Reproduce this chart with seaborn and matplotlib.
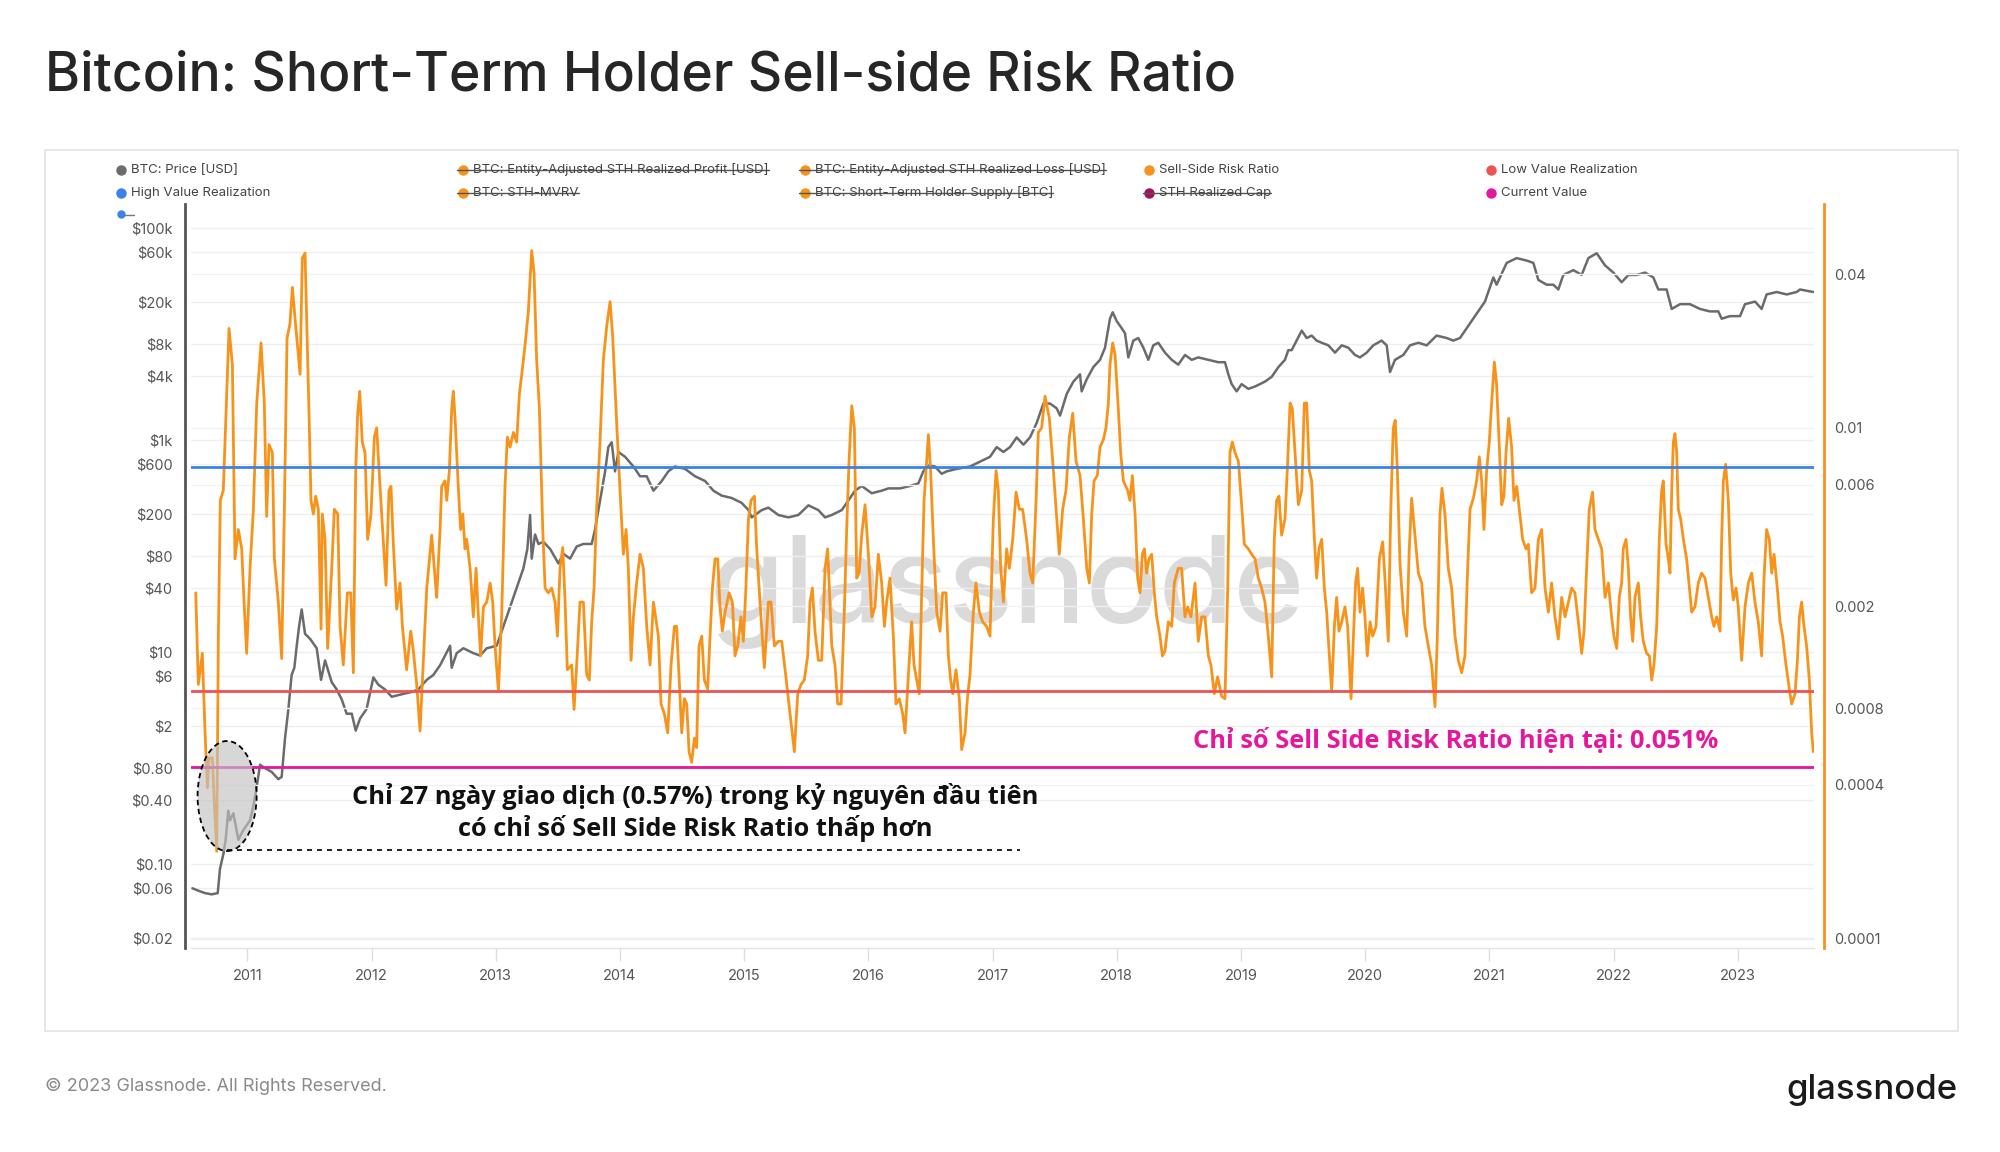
import numpy as np
import seaborn as sns
import matplotlib.pyplot as plt
from matplotlib.patches import Ellipse, Rectangle
from matplotlib.lines import Line2D
from matplotlib.ticker import NullLocator

# BTC price (USD), decimal year
price_year = [
    2010.557, 2010.605, 2010.659, 2010.712, 2010.761, 2010.779, 2010.806, 2010.825, 2010.846, 2010.860,
    2010.887, 2010.927, 2010.967, 2011.021, 2011.048, 2011.075, 2011.102, 2011.128, 2011.195, 2011.249,
    2011.276, 2011.303, 2011.330, 2011.356, 2011.378, 2011.397, 2011.416, 2011.437, 2011.464, 2011.504,
    2011.558, 2011.593, 2011.625, 2011.679, 2011.719, 2011.759, 2011.799, 2011.840, 2011.872, 2011.907,
    2011.960, 2012.014, 2012.054, 2012.108, 2012.162, 2012.242, 2012.323, 2012.376,
    2012.444, 2012.497, 2012.551, 2012.591, 2012.632, 2012.645, 2012.685, 2012.739, 2012.819, 2012.873,
    2012.927, 2013.007, 2013.061, 2013.115, 2013.168, 2013.222, 2013.254, 2013.276, 2013.289, 2013.316,
    2013.343, 2013.383, 2013.437, 2013.504, 2013.544, 2013.598, 2013.651, 2013.705, 2013.772, 2013.799,
    2013.839, 2013.880, 2013.906, 2013.933, 2013.960, 2013.987, 2014.041, 2014.108, 2014.161, 2014.215,
    2014.269, 2014.336, 2014.389, 2014.443, 2014.524, 2014.604, 2014.685, 2014.752, 2014.819, 2014.899,
    2014.980, 2015.034, 2015.060, 2015.087, 2015.141, 2015.195, 2015.275, 2015.356, 2015.436, 2015.517,
    2015.597, 2015.651, 2015.705, 2015.785, 2015.839, 2015.892, 2015.946, 2016.027, 2016.107, 2016.161,
    2016.255, 2016.335, 2016.402, 2016.442, 2016.483, 2016.536, 2016.590, 2016.630, 2016.711, 2016.818,
    2016.899, 2016.979, 2017.033, 2017.087, 2017.140, 2017.194, 2017.248, 2017.301, 2017.355, 2017.409,
    2017.462, 2017.516, 2017.543, 2017.597, 2017.650, 2017.704, 2017.717, 2017.758, 2017.811, 2017.865,
    2017.905, 2017.945, 2017.967, 2017.999, 2018.039, 2018.066, 2018.093, 2018.133, 2018.173, 2018.214,
    2018.254, 2018.294, 2018.334, 2018.388, 2018.442, 2018.495, 2018.549, 2018.603, 2018.656, 2018.737,
    2018.817, 2018.871, 2018.898, 2018.925, 2018.965, 2019.005, 2019.059, 2019.113, 2019.193, 2019.247,
    2019.301, 2019.354, 2019.381, 2019.408, 2019.448, 2019.489, 2019.529, 2019.569, 2019.609, 2019.650,
    2019.703, 2019.757, 2019.811, 2019.864, 2019.918, 2019.958, 2020.012, 2020.065, 2020.132, 2020.173,
    2020.200, 2020.240, 2020.307, 2020.361, 2020.428, 2020.495, 2020.575, 2020.656, 2020.709, 2020.763,
    2020.817, 2020.897, 2020.964, 2021.032, 2021.058, 2021.139, 2021.219, 2021.300, 2021.354, 2021.394,
    2021.461, 2021.515, 2021.555, 2021.595, 2021.676, 2021.743, 2021.797, 2021.864, 2021.931, 2021.998,
    2022.065, 2022.119, 2022.186, 2022.253, 2022.320, 2022.360, 2022.427, 2022.468, 2022.535, 2022.615,
    2022.696, 2022.776, 2022.843, 2022.870, 2022.937, 2023.018, 2023.058, 2023.139, 2023.192, 2023.232,
    2023.313, 2023.394, 2023.474, 2023.501, 2023.608,
]
price_usd = [
    0.0593, 0.0563, 0.0534, 0.052, 0.0534, 0.0903, 0.124, 0.170, 0.320, 0.259,
    0.303, 0.170, 0.210, 0.259, 0.355, 0.542, 0.869, 0.824, 0.743, 0.634,
    0.668, 1.55, 2.92, 6.10, 7.14, 11.5, 17.5, 25.3, 14.9, 13.4,
    10.9, 5.49, 8.37, 5.21, 4.45, 3.60, 2.63, 2.63, 1.82, 2.37,
    2.92, 5.79, 4.94, 4.45, 3.80, 4.01, 4.22, 4.45,
    5.49, 6.10, 7.53, 9.30, 11.5, 7.14, 9.8, 10.9, 9.8, 9.3,
    10.9, 11.5, 17.5, 26.7, 40.6, 61.8, 94.3, 197, 76.3, 129,
    105, 110, 94.3, 68.8, 84.9, 76.3, 99.3, 105, 105, 144,
    270, 508, 861, 955, 508, 774, 697, 565, 457, 457,
    334, 412, 508, 565, 536, 457, 412, 334, 300, 285,
    256, 219, 187, 197, 219, 231, 197, 187, 197, 243,
    219, 187, 197, 219, 270, 334, 370, 316, 334, 351,
    351, 370, 391, 508, 577, 565, 482, 508, 536, 565,
    628, 697, 861, 774, 861, 1062, 907, 1062, 1456, 2218,
    2218, 1998, 1706, 2739, 3565, 4180, 2890, 3760, 4890, 5730,
    7450, 14000, 16100, 13300, 11400, 10200, 6040, 8700, 9200, 7450,
    5730, 7850, 8300, 6700, 5730, 5160, 6370, 5730, 6040, 5730,
    5440, 5440, 4180, 3380, 2890, 3380, 3050, 3210, 3570, 3960,
    4890, 5730, 7070, 7070, 8700, 10800, 9200, 9700, 8700, 8300,
    7850, 6700, 7850, 7450, 6370, 6040, 6700, 7850, 8700, 7850,
    4400, 5730, 6370, 7850, 8300, 7850, 9700, 9200, 8700, 9200,
    11400, 15600, 20300, 34300, 29300, 47000, 52200, 49500, 47000, 32500,
    29300, 29300, 26400, 36200, 40200, 36200, 52200, 58000, 44600, 38100,
    30900, 36200, 36200, 38100, 34300, 26400, 26400, 17300, 19200, 19200,
    17300, 16400, 16400, 14000, 14800, 14800, 19200, 20300, 17300, 23700,
    25000, 23700, 25000, 26400, 25000,
]

# Sell-Side Risk Ratio, in basis points (1 bp = 0.0001)
ssr_year = [
    2010.584, 2010.605, 2010.637, 2010.659, 2010.678, 2010.691, 2010.718, 2010.731, 2010.753, 2010.766,
    2010.782, 2010.806, 2010.825, 2010.852, 2010.879, 2010.900, 2010.927, 2010.954, 2010.975, 2010.994,
    2011.021, 2011.048, 2011.075, 2011.110, 2011.136, 2011.155, 2011.174, 2011.201, 2011.217, 2011.249,
    2011.276, 2011.297, 2011.319, 2011.343, 2011.362, 2011.389, 2011.424, 2011.442, 2011.464, 2011.496,
    2011.512, 2011.531, 2011.550, 2011.571, 2011.593, 2011.603, 2011.625, 2011.646, 2011.679, 2011.700,
    2011.727, 2011.746, 2011.772, 2011.805, 2011.832, 2011.853, 2011.872, 2011.888, 2011.904, 2011.925,
    2011.947, 2011.968, 2011.995, 2012.022, 2012.041, 2012.054, 2012.081, 2012.116, 2012.140, 2012.156,
    2012.175, 2012.202, 2012.229, 2012.248, 2012.282, 2012.315, 2012.336, 2012.363, 2012.390,
    2012.417, 2012.444, 2012.484, 2012.511, 2012.524, 2012.551, 2012.564, 2012.591, 2012.605, 2012.626,
    2012.645, 2012.658, 2012.672, 2012.699, 2012.717, 2012.734, 2012.752, 2012.766, 2012.793, 2012.819,
    2012.841, 2012.860, 2012.878, 2012.900, 2012.927, 2012.954, 2012.975, 2012.994, 2013.021, 2013.048,
    2013.074, 2013.093, 2013.115, 2013.142, 2013.168, 2013.190, 2013.209, 2013.235, 2013.262, 2013.289,
    2013.308, 2013.329, 2013.351, 2013.378, 2013.397, 2013.423, 2013.450, 2013.477, 2013.496, 2013.517,
    2013.539, 2013.558, 2013.576, 2013.611, 2013.630, 2013.651, 2013.678, 2013.705, 2013.732, 2013.753,
    2013.772, 2013.791, 2013.812, 2013.839, 2013.866, 2013.893, 2013.920, 2013.941, 2013.973, 2014.000,
    2014.027, 2014.049, 2014.067, 2014.089, 2014.108, 2014.134, 2014.161, 2014.188, 2014.215, 2014.242,
    2014.269, 2014.309, 2014.330, 2014.357, 2014.384, 2014.411, 2014.438, 2014.456, 2014.475, 2014.497,
    2014.518, 2014.537, 2014.556, 2014.577, 2014.599, 2014.617, 2014.636, 2014.658, 2014.679, 2014.706,
    2014.725, 2014.744, 2014.765, 2014.787, 2014.805, 2014.824, 2014.846, 2014.878, 2014.905, 2014.926,
    2014.948, 2014.974, 2014.993, 2015.012, 2015.034, 2015.055, 2015.082, 2015.101, 2015.127, 2015.162,
    2015.195, 2015.216, 2015.243, 2015.275, 2015.302, 2015.334, 2015.369, 2015.404, 2015.431, 2015.458,
    2015.484, 2015.511, 2015.530, 2015.549, 2015.570, 2015.597, 2015.624, 2015.651, 2015.672, 2015.705,
    2015.731, 2015.753, 2015.780, 2015.806, 2015.825, 2015.844, 2015.866, 2015.887, 2015.906, 2015.925,
    2015.946, 2015.973, 2016.000, 2016.027, 2016.053, 2016.080, 2016.107, 2016.129, 2016.147, 2016.174,
    2016.201, 2016.222, 2016.249, 2016.276, 2016.295, 2016.322, 2016.348, 2016.367, 2016.389, 2016.410,
    2016.429, 2016.448, 2016.464, 2016.483, 2016.501, 2016.523, 2016.550, 2016.577, 2016.598, 2016.625,
    2016.644, 2016.662, 2016.679, 2016.705, 2016.732, 2016.751, 2016.778, 2016.797, 2016.818, 2016.845,
    2016.866, 2016.893, 2016.920, 2016.952, 2016.979, 2017.006, 2017.028, 2017.046, 2017.065, 2017.087,
    2017.113, 2017.135, 2017.162, 2017.189, 2017.215, 2017.242, 2017.274, 2017.301, 2017.323, 2017.350,
    2017.368, 2017.395, 2017.422, 2017.457, 2017.484, 2017.511, 2017.537, 2017.564, 2017.591, 2017.618,
    2017.645, 2017.672, 2017.704, 2017.731, 2017.758, 2017.779, 2017.798, 2017.817, 2017.843, 2017.865,
    2017.892, 2017.913, 2017.932, 2017.945, 2017.967, 2017.986, 2018.012, 2018.031, 2018.053,
    2018.087, 2018.106, 2018.125, 2018.147, 2018.168, 2018.187, 2018.206, 2018.222, 2018.240, 2018.259,
    2018.281, 2018.302, 2018.321, 2018.348, 2018.367, 2018.388, 2018.415, 2018.442, 2018.463, 2018.495,
    2018.522, 2018.549, 2018.571, 2018.597, 2018.630, 2018.656, 2018.683, 2018.710, 2018.737, 2018.758,
    2018.785, 2018.812, 2018.844, 2018.871, 2018.893, 2018.911, 2018.930, 2018.952, 2018.979, 2019.005,
    2019.027, 2019.059, 2019.086, 2019.113, 2019.140, 2019.166, 2019.193, 2019.220, 2019.247, 2019.268,
    2019.287, 2019.306, 2019.327, 2019.354, 2019.376, 2019.395, 2019.413, 2019.435, 2019.462, 2019.489,
    2019.510, 2019.529, 2019.550, 2019.569, 2019.591, 2019.609, 2019.628, 2019.650, 2019.671, 2019.690,
    2019.709, 2019.730, 2019.752, 2019.770, 2019.789, 2019.811, 2019.837, 2019.859, 2019.886, 2019.907,
    2019.923, 2019.939, 2019.958, 2019.979, 2019.998, 2020.017, 2020.039, 2020.060, 2020.087, 2020.114,
    2020.141, 2020.159, 2020.186, 2020.205, 2020.226, 2020.242, 2020.259, 2020.280, 2020.307, 2020.334,
    2020.355, 2020.374, 2020.401, 2020.428, 2020.455, 2020.481, 2020.508, 2020.535, 2020.562, 2020.581,
    2020.602, 2020.618, 2020.642, 2020.669, 2020.696, 2020.723, 2020.750, 2020.777, 2020.803, 2020.822,
    2020.844, 2020.871, 2020.897, 2020.919, 2020.938, 2020.956, 2020.978, 2020.999, 2021.018, 2021.040,
    2021.058, 2021.080, 2021.099, 2021.117, 2021.134, 2021.155, 2021.179, 2021.198, 2021.220, 2021.241,
    2021.268, 2021.295, 2021.313, 2021.340, 2021.367, 2021.394, 2021.421, 2021.448, 2021.475, 2021.501,
    2021.528, 2021.555, 2021.582, 2021.609, 2021.636, 2021.662, 2021.689, 2021.716, 2021.743, 2021.762,
    2021.783, 2021.804, 2021.831, 2021.850, 2021.877, 2021.904, 2021.931, 2021.958, 2021.984, 2022.003,
    2022.025, 2022.046, 2022.065, 2022.078, 2022.100, 2022.119, 2022.137, 2022.154, 2022.172, 2022.199,
    2022.218, 2022.239, 2022.266, 2022.288, 2022.307, 2022.325, 2022.347, 2022.368, 2022.387, 2022.400,
    2022.422, 2022.441, 2022.454, 2022.468, 2022.481, 2022.494, 2022.508, 2022.521, 2022.540, 2022.562,
    2022.588, 2022.610, 2022.629, 2022.655, 2022.682, 2022.709, 2022.736, 2022.763, 2022.790, 2022.808,
    2022.830, 2022.857, 2022.870, 2022.884, 2022.902, 2022.924, 2022.943, 2022.964, 2022.986, 2023.004,
    2023.031, 2023.058, 2023.085, 2023.112, 2023.138, 2023.165, 2023.192, 2023.211, 2023.232, 2023.254,
    2023.273, 2023.292, 2023.318, 2023.340, 2023.361, 2023.388, 2023.415, 2023.434, 2023.461, 2023.480,
    2023.496, 2023.514, 2023.533, 2023.554, 2023.576, 2023.595, 2023.608,
]
ssr_bp = [
    22.6, 9.9, 13.1, 6.4, 3.9, 5.1, 5.1, 3.6, 2.2, 15.3,
    52, 57, 105, 245, 177, 30.7, 40, 33.6, 19.9, 13.1,
    28.2, 48, 125, 215, 125, 45, 86, 80, 30.7, 20.8,
    12.5, 46, 224, 256, 355, 250, 162, 462, 483, 114,
    52, 46, 54, 48, 16.3, 46, 36.6, 13.7, 28.2, 48,
    46, 16.7, 11.8, 22.6, 22.6, 11.0, 68, 114, 139, 88,
    80, 36.6, 46, 92, 100, 77, 46, 24.2, 57, 59,
    35, 19.5, 24.7, 16.7, 11.3, 16.0, 13.4, 9.9, 6.5,
    12.3, 23.6, 38, 25.8, 21.7, 40, 59, 62, 52, 68,
    119, 139, 109, 57, 40, 46, 33.6, 36.6, 28.2, 18.2,
    28.2, 18.2, 12.8, 19.9, 20.8, 24.7, 20.8, 14.0, 9.3, 19.0,
    59, 92, 84, 96, 88, 136, 162, 210, 286, 494,
    405, 184, 119, 40, 23.6, 22.6, 23.6, 20.8, 15.3, 28.2,
    34, 20.8, 11.3, 11.8, 7.9, 11.8, 20.8, 20.8, 10.8, 10.3,
    17.4, 23.6, 48, 88, 184, 250, 312, 229, 105, 57,
    32, 40, 28.2, 12.3, 18.2, 24.7, 32, 28.2, 16.7, 11.8,
    20.8, 15.3, 8.3, 7.6, 6.4, 11.8, 16.7, 16.7, 10.8, 6.4,
    8.7, 8.3, 5.4, 4.9, 6.1, 5.6, 14.0, 15.3, 10.3, 9.5,
    15.3, 23.6, 30.7, 30.7, 19.9, 16.0, 19.0, 22.6, 20.8, 12.8,
    14.0, 18.2, 14.6, 22.6, 44, 52, 54, 33.6, 20.8, 11.5,
    20.8, 20.8, 14.0, 14.6, 14.6, 10.8, 7.6, 5.4, 9.1, 9.9,
    10.3, 12.8, 20.8, 23.6, 16.0, 12.3, 12.3, 28.2, 33.6, 14.0,
    11.8, 8.3, 8.3, 19.0, 40, 74, 122, 100, 25.8, 27,
    38, 50, 32, 18.2, 19.9, 32, 24.7, 16.7, 20.8, 25.8,
    15.3, 8.3, 8.7, 7.6, 6.4, 10.8, 17.4, 11.8, 10.3, 9.1,
    22.6, 52, 68, 94, 68, 36.6, 19.0, 16.0, 22.6, 22.6,
    12.8, 10.3, 9.1, 11.3, 8.7, 5.5, 6.4, 8.7, 10.8, 19.0,
    24.7, 19.0, 17.4, 16.7, 15.3, 44, 68, 57, 28.2, 20.8,
    33.6, 28.2, 36.6, 56, 48, 48, 36.6, 27, 24.7, 52,
    96, 100, 133, 109, 74, 48, 32, 48, 57, 92,
    114, 74, 65, 44, 28.2, 24.7, 46, 62, 65, 84,
    90, 100, 125, 177, 215, 193, 119, 80, 62,
    57, 52, 65, 46, 25.8, 22.6, 32, 33.6, 27, 30.7,
    32, 22.6, 18.2, 15.3, 12.8, 13.4, 17.4, 16.7, 24.7, 28.2,
    28.2, 18.2, 19.9, 18.2, 24.7, 14.6, 18.2, 18.2, 12.8, 11.8,
    9.1, 10.6, 8.9, 8.7, 23.6, 80, 88, 80, 74, 50,
    35, 33.6, 32, 30.7, 25.8, 23.6, 20.8, 15.3, 10.6, 36.6,
    52, 54, 38, 44, 74, 125, 119, 80, 50, 57,
    125, 125, 68, 62, 36.6, 25.8, 33.6, 36.6, 23.6, 19.0,
    13.4, 9.3, 16.7, 21.7, 16.0, 17.4, 19.9, 16.7, 8.7, 16.0,
    24.7, 28.2, 19.0, 23.6, 18.2, 12.8, 17.4, 15.3, 16.7, 30.7,
    35.8, 25.8, 14.6, 46, 100, 107, 68, 29.4, 19.0, 15.3,
    33.6, 53, 38, 27, 24.7, 16.7, 14.0, 11.8, 8.1, 15.3,
    46, 58, 46, 28.2, 23.6, 15.3, 12.3, 11.0, 12.8, 25.8,
    48, 53, 62, 77, 62, 40, 68, 88, 125, 181,
    148, 84, 50, 54, 80, 109, 84, 52, 59, 48,
    36.6, 33.6, 35, 22.6, 23.6, 36.6, 40, 23.6, 19.0, 24.7,
    18.2, 14.9, 21.7, 18.2, 20.8, 23.6, 22.6, 17.4, 13.1, 16.0,
    28.2, 48, 56, 40, 36.6, 33.6, 21.7, 24.7, 18.2, 15.3,
    13.7, 21.7, 24.7, 33.6, 36.6, 28.2, 18.2, 14.6, 21.7, 24.7,
    18.2, 14.6, 13.1, 12.8, 10.3, 11.8, 16.7, 36.6, 57, 62,
    35, 30.7, 27, 57, 88, 95, 80, 48, 44, 36.6,
    30.7, 23.6, 19.0, 19.9, 24.7, 27, 25.8, 21.7, 18.2, 16.7,
    18.2, 16.0, 36.6, 62, 72, 52, 27, 21.2, 23.6, 19.9,
    12.3, 19.9, 24.7, 27, 20.8, 17.4, 12.8, 25.8, 40, 36.6,
    27, 32, 23.6, 17.4, 15.3, 11.8, 9.5, 8.3, 9.1, 12.3,
    18.2, 20.8, 16.7, 14.0, 10.3, 6.4, 5.4,
]

high_value = 0.0070
low_value = 0.00093
current_value = 0.00047

left_ticks = [1e5, 6e4, 2e4, 8e3, 4e3, 1e3, 600, 200, 80, 40, 10, 6, 2, 0.8, 0.4, 0.1, 0.06, 0.02]
left_labels = ["$100k", "$60k", "$20k", "$8k", "$4k", "$1k", "$600", "$200", "$80", "$40",
               "$10", "$6", "$2", "$0.80", "$0.40", "$0.10", "$0.06", "$0.02"]
right_ticks = [0.04, 0.01, 0.006, 0.002, 0.0008, 0.0004, 0.0001]
right_labels = ["0.04", "0.01", "0.006", "0.002", "0.0008", "0.0004", "0.0001"]
years = list(range(2011, 2024))

legend_items = [
    ("BTC: Price [USD]", "#6b6b6b", False, 0, 0),
    ("BTC: Entity-Adjusted STH Realized Profit [USD]", "#f7931a", True, 1, 0),
    ("BTC: Entity-Adjusted STH Realized Loss [USD]", "#f7931a", True, 2, 0),
    ("Sell-Side Risk Ratio", "#f7931a", False, 3, 0),
    ("Low Value Realization", "#ef5350", False, 4, 0),
    ("High Value Realization", "#3b82e8", False, 0, 1),
    ("BTC: STH-MVRV", "#f7931a", True, 1, 1),
    ("BTC: Short-Term Holder Supply [BTC]", "#f7931a", True, 2, 1),
    ("STH Realized Cap", "#a3105c", True, 3, 1),
    ("Current Value", "#e6179c", False, 4, 1),
]

ORANGE = "#f7931a"
GRAY = "#6b6b6b"
BLUE = "#3b82e8"
RED = "#ef5350"
MAGENTA = "#e6179c"

sns.set_theme(style="white")
plt.rcParams['font.family'] = ['Inter', 'DejaVu Sans']
plt.rcParams['text.parse_math'] = False

fig = plt.figure(figsize=(20, 11.52), dpi=100)
ax = fig.add_axes([0.0957, 0.1773, 0.8112, 0.6456])
ax.set_facecolor("none")
ax2 = ax.twinx()

# price on left log axis
sns.lineplot(x=price_year, y=price_usd, ax=ax, color=GRAY, linewidth=1.8)
ax.set_yscale("log")

# sell-side risk ratio on right log axis
ssr = np.array(ssr_bp) / 10000
sns.lineplot(x=ssr_year, y=ssr, ax=ax2, color=ORANGE, linewidth=2.0)
ax2.set_yscale("log")

ax2.axhline(high_value, color=BLUE, lw=2.0, zorder=3)
ax2.axhline(low_value, color=RED, lw=2.0, zorder=3)
ax2.axhline(current_value, color=MAGENTA, lw=2.0, zorder=3)

ax.set_xlim(min(price_year) - 0.008, max(ssr_year) + 0.004)
ax.set_ylim(0.0163, 169000)
ax2.set_ylim(9.22e-5, 0.0752)

ax.set_yticks(left_ticks, labels=left_labels)
ax.yaxis.set_minor_locator(NullLocator())
ax2.set_yticks(right_ticks, labels=right_labels)
ax2.yaxis.set_minor_locator(NullLocator())
ax.set_xticks(years, labels=[str(y) for y in years])
ax.xaxis.set_minor_locator(NullLocator())

ax.tick_params(axis="y", length=0, pad=9, labelsize=10.5, labelcolor="#555555")
ax2.tick_params(axis="y", length=0, pad=7, labelsize=10.5, labelcolor="#555555")
ax.tick_params(axis="x", length=9, width=1, color="#dddddd", pad=6,
               labelsize=10.5, labelcolor="#555555", bottom=True)

ax.set_xlabel("")
ax.set_ylabel("")
ax2.set_ylabel("")

ax.yaxis.grid(True, color="#eeeeee", lw=1)
ax2.yaxis.grid(True, color="#f1f1f1", lw=1, zorder=0)
ax.set_axisbelow(True)

for s in ["top", "right"]:
    ax.spines[s].set_visible(False)
for s in ["top", "left", "bottom"]:
    ax2.spines[s].set_visible(False)
ax.spines["left"].set_position(("outward", 4.6))
ax.spines["left"].set_color("#555555")
ax.spines["left"].set_linewidth(2)
ax.spines["bottom"].set_color("#e3e3e3")
ax.spines["bottom"].set_linewidth(1)
ax2.spines["right"].set_position(("outward", 7.3))
ax2.spines["right"].set_color(ORANGE)
ax2.spines["right"].set_linewidth(2)

# watermark
ax.text(0.503, 0.478, "glassnode", transform=ax.transAxes, fontsize=87,
        color="#dadada", ha="center", va="center", zorder=0.5, fontweight="medium")

# highlight of the early era
ax2.add_patch(Ellipse((0.022, 0.204), 0.0364, 0.148, transform=ax2.transAxes,
                      facecolor=(0.76, 0.76, 0.76, 0.65), edgecolor="black",
                      linestyle=(0, (3, 2)), lw=1.3, zorder=4))
ax2.plot([0.022, 0.511], [0.132, 0.132], transform=ax2.transAxes, color="black",
         ls=(0, (3, 3)), lw=1.2, zorder=4)

fig.text(0.3476, 0.2947,
         "Chỉ 27 ngày giao dịch (0.57%) trong kỷ nguyên đầu tiên\ncó chỉ số Sell Side Risk Ratio thấp hơn",
         ha="center", va="center", fontsize=18.3, fontweight="bold", color="#111111",
         linespacing=1.25, family=["Open Sans", "DejaVu Sans"])
fig.text(0.5963, 0.3568, "Chỉ số Sell Side Risk Ratio hiện tại: 0.051%",
         ha="left", va="center", fontsize=18.3, fontweight="bold", color=MAGENTA,
         family=["Open Sans", "DejaVu Sans"])

# title, frame, footer
fig.text(0.0223, 0.9336, "Bitcoin: Short-Term Holder Sell-side Risk Ratio",
         fontsize=38.5, color="#262626", ha="left", va="center", fontweight="medium")
fig.add_artist(Rectangle((0.0223, 0.1054), 0.9567, 0.764, transform=fig.transFigure,
                         fill=False, edgecolor="#e3e3e3", lw=1.2))
fig.text(0.0223, 0.0567, "© 2023 Glassnode. All Rights Reserved.",
         fontsize=13, color="#8a8a8a", ha="left", va="center")
fig.text(0.979, 0.0535, "glassnode", fontsize=25, color="#1a1a1a",
         ha="right", va="center", fontweight="medium")

# legend
W, H = 2000.0, 1152.0
col_x = [121, 463, 805, 1149, 1491]
row_y = [169.6, 192.6]
texts = []
for label, color, struck, col, row in legend_items:
    xd = col_x[col] / W
    yd = 1 - row_y[row] / H
    fig.add_artist(Line2D([xd], [yd], marker="o", markersize=6.5, color=color,
                          transform=fig.transFigure, lw=0))
    t = fig.text(xd + 10 / W, yd, label, fontsize=9.5, color="#444444", ha="left", va="center")
    texts.append((t, struck, xd, yd))

# small series marker above the left axis
fig.add_artist(Line2D([121 / W], [1 - 214 / H], marker="o", markersize=5, color=BLUE,
                      transform=fig.transFigure, lw=0))
fig.add_artist(Line2D([124 / W, 134 / W], [1 - 215 / H, 1 - 215 / H], color="#777777",
                      lw=1, transform=fig.transFigure))

fig.canvas.draw()
renderer = fig.canvas.get_renderer()
for t, struck, xd, yd in texts:
    if struck:
        bb = t.get_window_extent(renderer)
        fig.add_artist(Line2D([xd - 6 / W, bb.x1 / W], [yd, yd], color="#555555", lw=1,
                              transform=fig.transFigure))

fig.savefig("out.png", dpi=100)
